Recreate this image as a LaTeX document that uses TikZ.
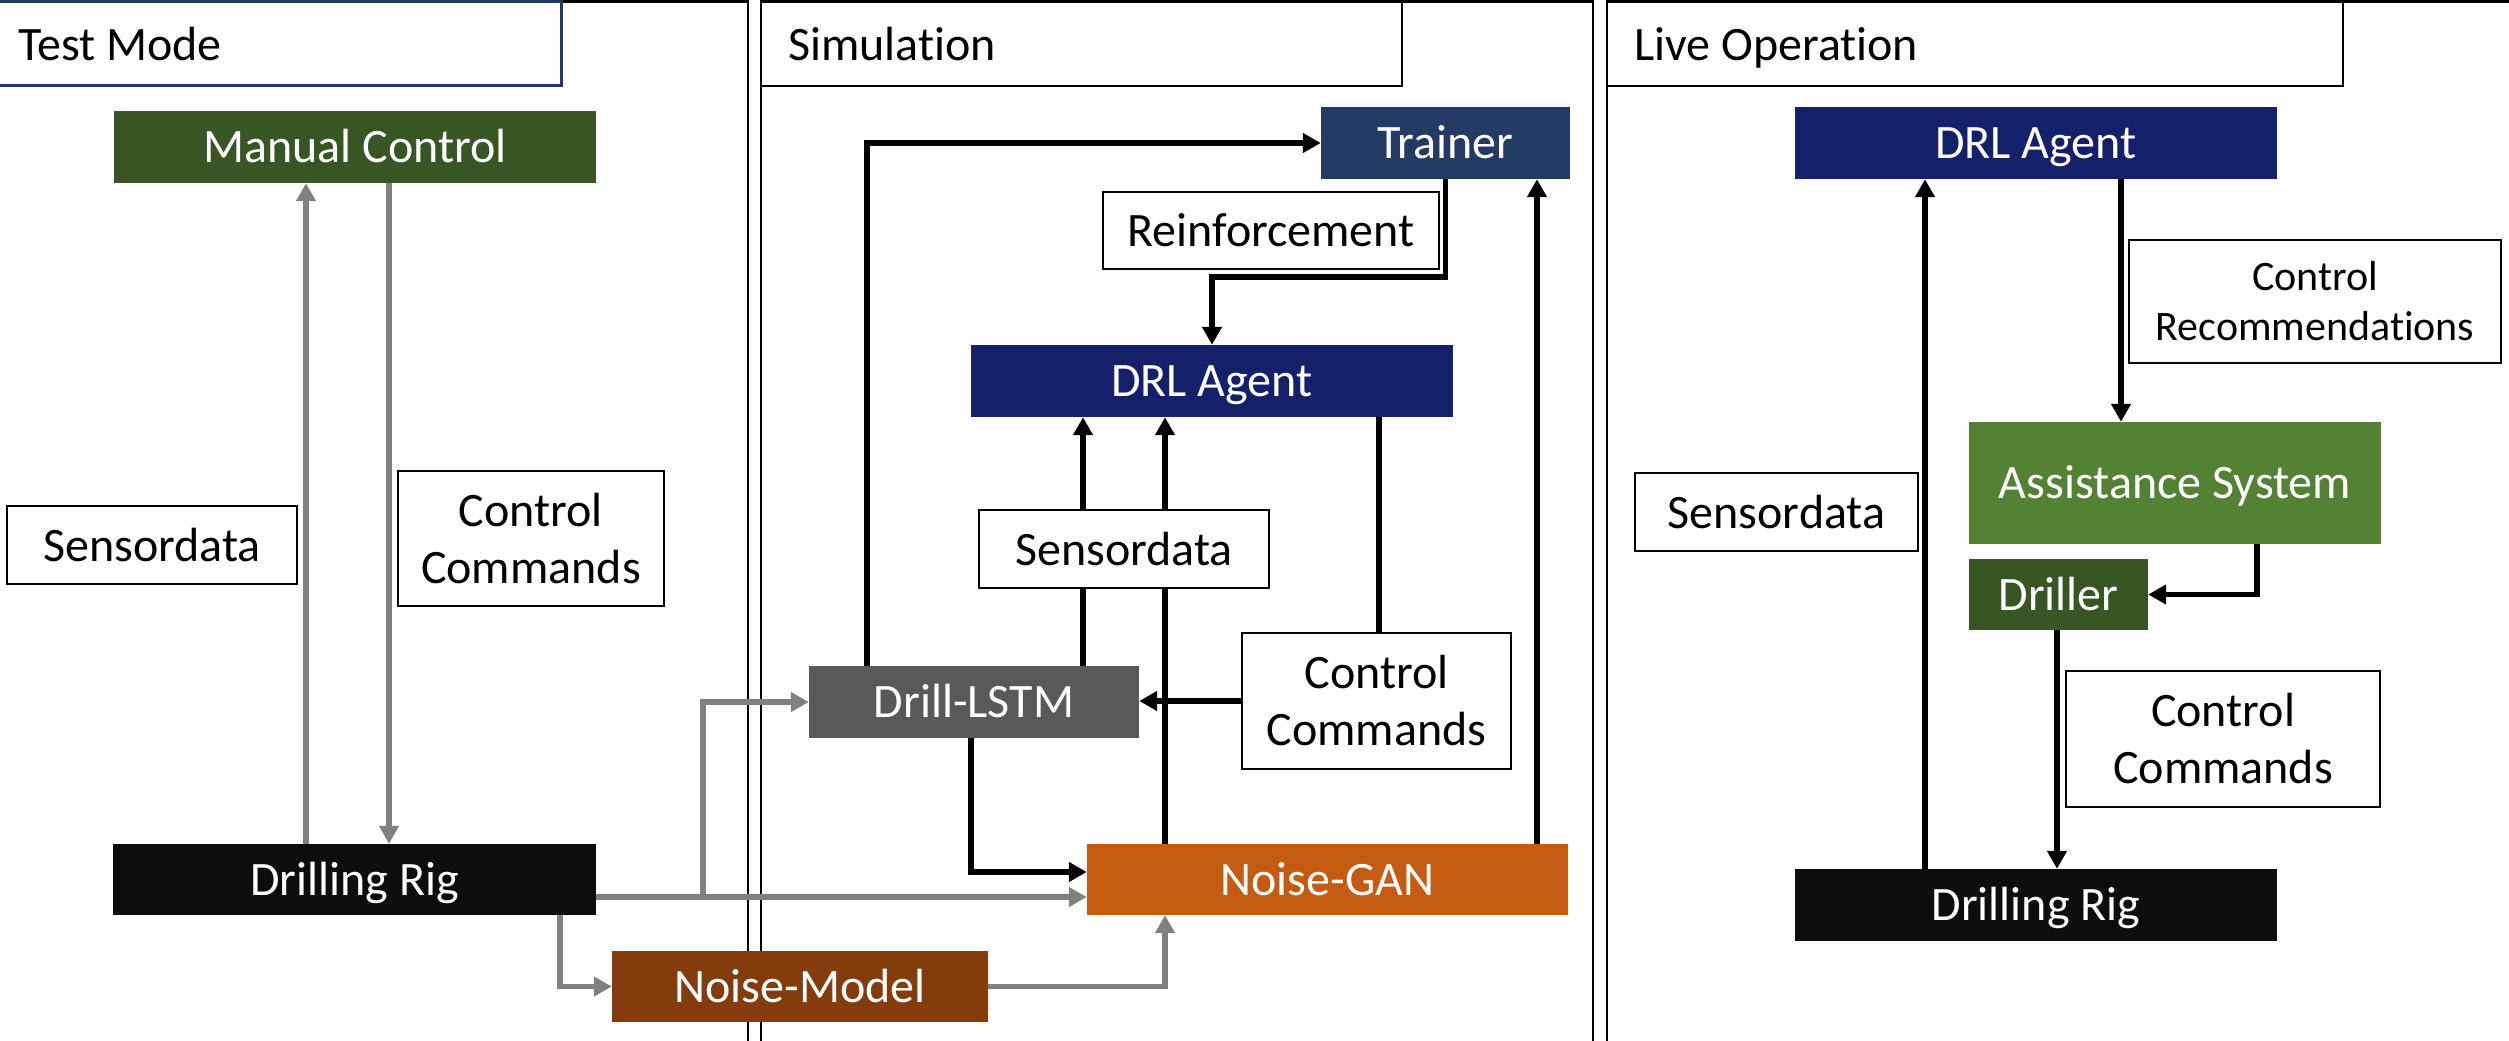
\documentclass[tikz,border=0pt]{standalone}
\usepackage{fontspec}
\setmainfont[Ligatures={NoCommon,NoContextual}]{Carlito}
\usetikzlibrary{arrows.meta}
\pgfdeclarelayer{panels}
\pgfdeclarelayer{bg}
\pgfsetlayers{panels,bg,main}
\definecolor{mcgreen}{HTML}{375623}
\definecolor{asgreen}{HTML}{548235}
\definecolor{trblue}{HTML}{223A64}
\definecolor{drlblue}{HTML}{14206A}
\definecolor{lstmgray}{HTML}{595959}
\definecolor{ganorange}{HTML}{C55A11}
\definecolor{nmbrown}{HTML}{843C0C}
\definecolor{rigblack}{HTML}{0D0D0D}
\definecolor{conngray}{HTML}{808080}
\definecolor{titlenavy}{HTML}{1F3864}
\tikzset{
  fbox/.style={rectangle, inner sep=0pt, text=white, font=\fontsize{48}{57}\selectfont, text height=31pt, text depth=0pt},
  lbox/.style={rectangle, inner sep=0pt, draw=black, line width=2.5pt, fill=white, text=black, font=\fontsize{48}{57}\selectfont, align=center},
  ttext/.style={inner sep=0pt, anchor=base west, font=\fontsize{48}{57}\selectfont},
  panel/.style={draw=black, line width=2.8pt},
  gconn/.style={draw=conngray, line width=5.5pt, -{Triangle[width=19pt,length=18pt]}},
  bconn/.style={draw=black, line width=5.5pt, -{Triangle[width=19pt,length=18pt]}},
  bline/.style={draw=black, line width=5.5pt}
}
\begin{document}
\begin{tikzpicture}[x=1pt,y=-1pt]
\useasboundingbox (0,0) rectangle (2509,1041);

% ---------- panels ----------
\begin{pgfonlayer}{panels}
\draw[panel] (0,1.5) -- (748,1.5) -- (748,1041);
\draw[panel] (761,1041) -- (761,1.5) -- (1593,1.5) -- (1593,1041);
\draw[panel] (1607,1041) -- (1607,1.5) -- (2509,1.5);
\draw[draw=titlenavy, line width=3pt] (0,1.5) -- (561,1.5) -- (561,86) -- (0,86);
\draw[panel] (761,1.5) rectangle (1402,86);
\draw[panel] (1607,1.5) rectangle (2343,86);
\end{pgfonlayer}
\node[ttext] (t1) at (18,60) {Test Mode};
\node[ttext] (t2) at (788,60) {Simulation};
\node[ttext] (t3) at (1634,60) {Live Operation};

% ---------- Test Mode ----------
\node[fbox, fill=mcgreen, minimum width=482, minimum height=72] (mc) at (355,147) {Manual Control};
\node[fbox, fill=rigblack, minimum width=483, minimum height=71] (rig1) at (354.5,879.5) {Drilling Rig};
\node[lbox, minimum width=290, minimum height=78] (sd1) at (152,545) {Sensordata};
\node[lbox, minimum width=266, minimum height=135] (cc1) at (531,538.5) {Control\\Commands};
\node[fbox, fill=nmbrown, minimum width=376, minimum height=71] (nm) at (800,986.5) {Noise-Model};

% ---------- Simulation ----------
\node[fbox, fill=trblue, minimum width=249, minimum height=72] (tr) at (1445.5,143) {Trainer};
\node[lbox, minimum width=336, minimum height=77] (rf) at (1271,230.5) {Reinforcement};
\node[fbox, fill=drlblue, minimum width=482, minimum height=72] (drl1) at (1212,381) {DRL Agent};
\node[lbox, minimum width=290, minimum height=78] (sd2) at (1124,549) {Sensordata};
\node[lbox, minimum width=269, minimum height=136] (cc2) at (1376.5,701) {Control\\Commands};
\node[fbox, fill=lstmgray, minimum width=330, minimum height=72] (lstm) at (974,702) {Drill-LSTM};
\node[fbox, fill=ganorange, minimum width=481, minimum height=71] (gan) at (1327.5,879.5) {Noise-GAN};

% ---------- Live Operation ----------
\node[fbox, fill=drlblue, minimum width=482, minimum height=72] (drl2) at (2036,143) {DRL Agent};
\node[lbox, minimum width=372, minimum height=123, font=\fontsize{42}{50}\selectfont] (crec) at (2315,301.5) {Control\\Recommendations};
\node[fbox, fill=asgreen, minimum width=412, minimum height=122] (as) at (2175,483) {Assistance System};
\node[lbox, minimum width=283, minimum height=78] (sd3) at (1776.5,512) {Sensordata};
\node[fbox, fill=mcgreen, minimum width=179, minimum height=71] (dr) at (2058.5,594.5) {Driller};
\node[lbox, minimum width=314, minimum height=136] (cc3) at (2223,739) {Control\\Commands};
\node[fbox, fill=rigblack, minimum width=482, minimum height=72] (rig2) at (2036,905) {Drilling Rig};

% ---------- connectors ----------
\begin{pgfonlayer}{bg}
% test mode (gray)
\draw[gconn] (306,0 |- rig1.north) -- (306,0 |- mc.south);
\draw[gconn] (389,0 |- mc.south) -- (389,0 |- rig1.north);
\draw[gconn] (rig1.east |- 0,897) -- (gan.west |- 0,897);
\coordinate (j1) at (703,897);
\draw[gconn] (j1) |- (lstm.west);
\draw[gconn] (560,0 |- rig1.south) |- (nm.west);
\draw[gconn] (nm.east) -| (1165,0 |- gan.south);
% simulation (black)
\draw[bconn] (867,0 |- lstm.north) |- (tr.west);
\draw[bconn] (tr.south) -- ++(0,98) -| (drl1.north);
\draw[bconn] (1083,0 |- lstm.north) -- (1083,0 |- drl1.south);
\draw[bconn] (1165,0 |- gan.north) -- (1165,0 |- drl1.south);
\draw[bline] (1379,0 |- drl1.south) -- (1379,0 |- cc2.north);
\draw[bconn] (cc2.west) -- (lstm.east |- cc2.west);
\draw[bconn] (971,0 |- lstm.south) |- ([yshift=7.5pt]gan.west);
\draw[bconn] (1537,0 |- gan.north) -- (1537,0 |- tr.south);
% live operation (black)
\draw[bconn] (1925,0 |- rig2.north) -- (1925,0 |- drl2.south);
\draw[bconn] (2121,0 |- drl2.south) -- (2121,0 |- as.north);
\draw[bconn] (2257,0 |- as.south) |- (dr.east);
\draw[bconn] (2057,0 |- dr.south) -- (2057,0 |- rig2.north);
\end{pgfonlayer}
\end{tikzpicture}
\end{document}
